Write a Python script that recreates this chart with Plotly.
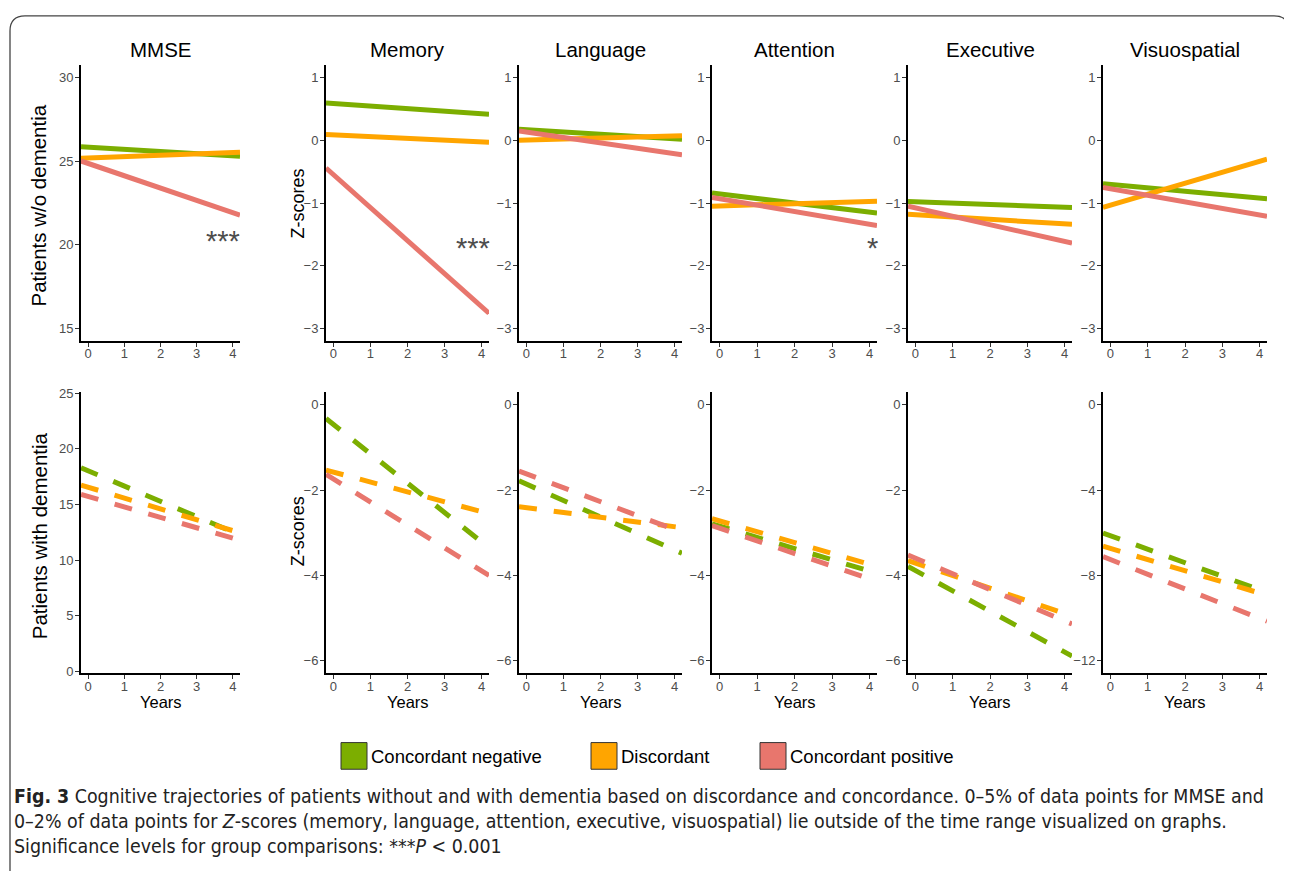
import plotly.graph_objects as go

W, H = 1292, 871
OFF = 8                              # browser body margin
FW, FH = W - OFF, H - OFF

domains = ["MMSE", "Memory", "Language", "Attention", "Executive", "Visuospatial"]
groups = ["Concordant negative", "Discordant", "Concordant positive"]
colors = ["#7CAE00", "#FFA500", "#E8766D"]
years = [-0.2, 4.2]
x_ticks = [0, 1, 2, 3, 4]

# Patients without dementia (solid lines): value at left and right edge of time window
nodem_neg_start = [25.88, 0.60, 0.18, -0.84, -0.975, -0.69]
nodem_neg_end = [25.31, 0.42, 0.02, -1.16, -1.07, -0.93]
nodem_dis_start = [25.19, 0.095, 0.005, -1.05, -1.18, -1.07]
nodem_dis_end = [25.55, -0.03, 0.075, -0.97, -1.34, -0.30]
nodem_pos_start = [25.02, -0.44, 0.15, -0.91, -1.05, -0.75]
nodem_pos_end = [21.78, -2.76, -0.23, -1.36, -1.64, -1.21]

# Patients with dementia (dashed lines)
dem_neg_start = [18.3, -0.32, -1.78, -2.79, -3.79, -6.01]
dem_neg_end = [12.25, -3.35, -3.48, -3.95, -5.89, -8.80]
dem_dis_start = [16.74, -1.53, -2.39, -2.67, -3.65, -6.63]
dem_dis_end = [12.45, -2.55, -2.88, -3.79, -4.95, -8.93]
dem_pos_start = [15.9, -1.63, -1.55, -2.83, -3.52, -7.12]
dem_pos_end = [11.78, -4.0, -2.99, -4.14, -5.14, -10.15]

top_ticks = [[15, 20, 25, 30]] + [[-3, -2, -1, 0, 1]] * 5
top_ranges = [[14.25, 30.75]] + [[-3.2, 1.2]] * 5
bot_ticks = [[0, 5, 10, 15, 20, 25]] + [[-6, -4, -2, 0]] * 4 + [[-12, -8, -4, 0]]
bot_ranges = [[-0.2, 25.1]] + [[-6.3, 0.3]] * 4 + [[-12.6, 0.6]]

# significance markers
sig_panels = [0, 1, 3]
sig_x = [3.72, 3.76, 4.08]
sig_y = [20.2, -1.72, -1.72]
sig_text = ["***", "***", "*"]

# panel pixel geometry (window pixels)
panel_left = [81, 326, 519, 712, 908, 1103]
panel_right = [240, 489, 682, 877, 1072, 1267]
top_row = (60, 339)
bot_row = (391, 676)

FONT = "Liberation Sans, Arial, sans-serif"


def fx(x):
    return (x - OFF) / FW


def fy(y):
    return 1 - (y - OFF) / FH


fig = go.Figure()
layout = {}

top_start = [nodem_neg_start, nodem_dis_start, nodem_pos_start]
top_end = [nodem_neg_end, nodem_dis_end, nodem_pos_end]
bot_start = [dem_neg_start, dem_dis_start, dem_pos_start]
bot_end = [dem_neg_end, dem_dis_end, dem_pos_end]

for row in range(2):
    for c in range(6):
        k = row * 6 + c + 1
        xa = "x" if k == 1 else f"x{k}"
        ya = "y" if k == 1 else f"y{k}"
        starts = top_start if row == 0 else bot_start
        ends = top_end if row == 0 else bot_end
        for g in range(3):
            fig.add_trace(go.Scatter(
                x=years, y=[starts[g][c], ends[g][c]], mode="lines",
                line=dict(color=colors[g], width=5,
                          dash="solid" if row == 0 else "18px,17px"),
                xaxis=xa, yaxis=ya, showlegend=False, hoverinfo="skip"))
        rtop, rbot = top_row if row == 0 else bot_row
        axis_common = dict(showline=True, linecolor="black", linewidth=2,
                           ticks="outside", ticklen=4, tickwidth=1, tickcolor="#333333",
                           showgrid=False, zeroline=False,
                           tickfont=dict(family=FONT, size=13, color="#4D4D4D"))
        layout["xaxis" if k == 1 else f"xaxis{k}"] = dict(
            domain=[fx(panel_left[c]), fx(panel_right[c])],
            anchor=ya, range=[-0.2, 4.2], tickvals=x_ticks, ticklabelstandoff=-4,
            **axis_common)
        layout["yaxis" if k == 1 else f"yaxis{k}"] = dict(
            domain=[fy(rbot), fy(rtop)], anchor=xa,
            range=(top_ranges if row == 0 else bot_ranges)[c],
            tickvals=(top_ticks if row == 0 else bot_ticks)[c],
            ticklabelstandoff=-1,
            **axis_common)

annotations = []
for c in range(6):
    cx = fx((panel_left[c] + panel_right[c]) / 2)
    annotations.append(dict(text=domains[c], x=cx, y=fy(44),
                            xref="paper", yref="paper", showarrow=False,
                            font=dict(family=FONT, size=20.5, color="black"),
                            xanchor="center", yanchor="middle"))
    annotations.append(dict(text="Years", x=cx, y=fy(705),
                            xref="paper", yref="paper", showarrow=False,
                            font=dict(family=FONT, size=16.5, color="black"),
                            xanchor="center", yanchor="middle"))
annotations.append(dict(text="Patients w/o dementia", x=fx(39), y=fy(202), xref="paper", yref="paper",
                        showarrow=False, textangle=-90, font=dict(family=FONT, size=20.5, color="black"),
                        xanchor="center", yanchor="middle"))
annotations.append(dict(text="Patients with dementia", x=fx(39), y=fy(537), xref="paper", yref="paper",
                        showarrow=False, textangle=-90, font=dict(family=FONT, size=20.5, color="black"),
                        xanchor="center", yanchor="middle"))
for yy in (200, 532):
    annotations.append(dict(text="Z-scores", x=fx(298), y=fy(yy), xref="paper", yref="paper",
                            showarrow=False, textangle=-90, font=dict(family=FONT, size=18, color="black"),
                            xanchor="center", yanchor="middle"))
for p, sx, sy, st in zip(sig_panels, sig_x, sig_y, sig_text):
    k = p + 1
    annotations.append(dict(text=st, x=sx, y=sy, xref="x" if k == 1 else f"x{k}",
                            yref="y" if k == 1 else f"y{k}", showarrow=False,
                            font=dict(family=FONT, size=29, color="#4D4D4D"),
                            xanchor="center", yanchor="middle"))

legend_box_x = [341, 591, 760]
shapes = []
for g in range(3):
    x0 = legend_box_x[g]
    shapes.append(dict(type="rect", xref="paper", yref="paper",
                       x0=fx(x0), x1=fx(x0 + 26), y0=fy(773), y1=fy(746),
                       fillcolor=colors[g], line=dict(color="#333333", width=1)))
    annotations.append(dict(text=groups[g], x=fx(x0 + 28), y=fy(760), xref="paper", yref="paper",
                            showarrow=False, font=dict(family=FONT, size=18.5, color="black"),
                            xanchor="left", yanchor="middle"))

CAP = "Liberation Sans Narrow, DejaVu Sans Condensed, Arial Narrow, sans-serif"
caption_lines = [
    "<b>Fig. 3</b> Cognitive trajectories of patients without and with dementia based on discordance and concordance. 0–5% of data points for MMSE and",
    "0–2% of data points for <i>Z</i>-scores (memory, language, attention, executive, visuospatial) lie outside of the time range visualized on graphs.",
    "Significance levels for group comparisons: ***<i>P</i> &lt; 0.001",
]
for i, line in enumerate(caption_lines):
    annotations.append(dict(text=line, x=fx(12), y=fy(801 + 25 * i), xref="paper", yref="paper",
                            showarrow=False, font=dict(family=CAP, size=19.4, color="#222222"),
                            xanchor="left", yanchor="middle"))

x0, x1, yt, yb, r = fx(10), fx(1289), fy(10), fy(900), 15
path = (f"M {x0},{yb} L {x0},{fy(10 + r)} Q {x0},{yt} {fx(10 + r)},{yt} "
        f"L {fx(1289 - r)},{yt} Q {x1},{yt} {x1},{fy(10 + r)} L {x1},{yb}")
shapes.append(dict(type="path", path=path, xref="paper", yref="paper",
                   line=dict(color="#444444", width=1.3)))

fig.update_layout(width=FW, height=FH, margin=dict(l=0, r=0, t=0, b=0),
                  paper_bgcolor="white", plot_bgcolor="white",
                  annotations=annotations, shapes=shapes, **layout)
fig.write_html("out.html")
